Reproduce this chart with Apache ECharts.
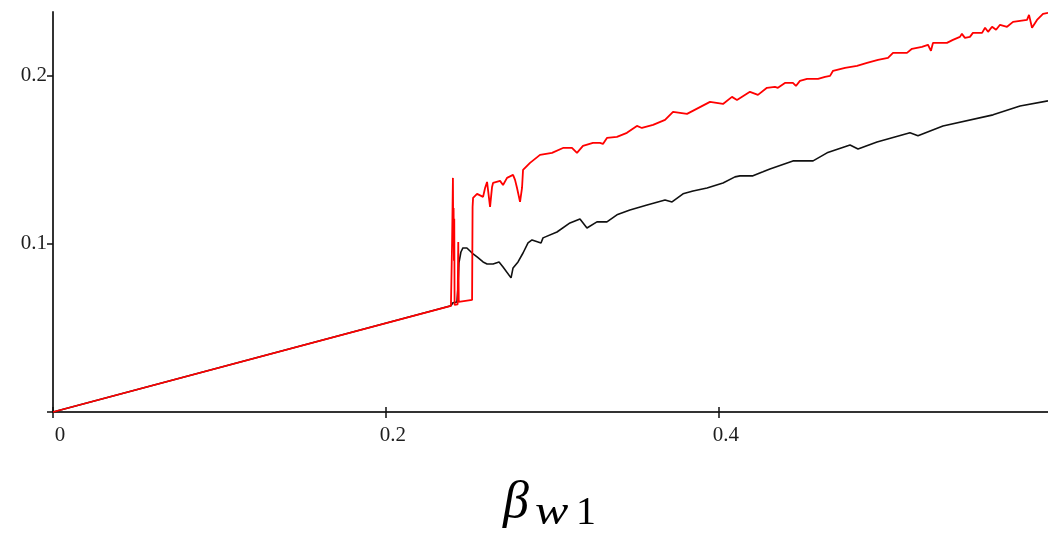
<!DOCTYPE html>
<html>
<head>
<meta charset="utf-8">
<script src="https://cdn.jsdelivr.net/npm/echarts@6/dist/echarts.min.js"></script>
<style>
  html, body { margin: 0; padding: 0; background: #ffffff; }
  #chart { width: 1048px; height: 537px; }
</style>
</head>
<body>
<div id="chart"></div>
<script>
// Tick positions on each axis
const xTickValues = [0, 0.2, 0.4];
const yTickValues = [0, 0.1, 0.2];
const yLabelValues = [0.1, 0.2];

// Lower curve (black): [beta_w1, value]
const blackCurve = [
  [0, 0], [0.2390, 0.0632], [0.2402, 0.0650], [0.2426, 0.0655], [0.2432, 0.0738],
  [0.2438, 0.0887], [0.2450, 0.0952], [0.2462, 0.0976], [0.2486, 0.0976], [0.2517, 0.0946],
  [0.2547, 0.0923], [0.2583, 0.0893], [0.2607, 0.0881], [0.2643, 0.0881], [0.2679, 0.0893],
  [0.2703, 0.0863], [0.2751, 0.0798], [0.2763, 0.0857], [0.2793, 0.0893], [0.2823, 0.0946],
  [0.2853, 0.1006], [0.2877, 0.1024], [0.2931, 0.1006], [0.2943, 0.1036], [0.3027, 0.1071],
  [0.3105, 0.1125], [0.3165, 0.1149], [0.3207, 0.1095], [0.3267, 0.1131], [0.3327, 0.1131],
  [0.3387, 0.1173], [0.3465, 0.1202], [0.3568, 0.1232], [0.3676, 0.1262], [0.3718, 0.1250],
  [0.3784, 0.1298], [0.3844, 0.1315], [0.3928, 0.1333], [0.4024, 0.1363], [0.4096, 0.1399],
  [0.4126, 0.1405], [0.4204, 0.1405], [0.4264, 0.1429], [0.4306, 0.1446], [0.4444, 0.1494],
  [0.4565, 0.1494], [0.4649, 0.1542], [0.4787, 0.1589], [0.4835, 0.1565], [0.4949, 0.1607],
  [0.5147, 0.1661], [0.5195, 0.1643], [0.5345, 0.1702], [0.5646, 0.1768], [0.5808, 0.1821],
  [0.5976, 0.1851]
];

// Upper curve (red): [beta_w1, value]
const redCurve = [
  [0, 0], [0.2390, 0.0632], [0.2396, 0.0636], [0.2397, 0.1012], [0.2400, 0.1012],
  [0.2402, 0.1393], [0.2404, 0.1000], [0.2406, 0.1214], [0.2408, 0.0900], [0.2410, 0.1150],
  [0.2412, 0.0637], [0.2430, 0.0640], [0.2434, 0.1012], [0.2437, 0.0655], [0.2517, 0.0667],
  [0.2520, 0.1220], [0.2523, 0.1274], [0.2547, 0.1298], [0.2583, 0.1280], [0.2595, 0.1333],
  [0.2607, 0.1369], [0.2625, 0.1220], [0.2637, 0.1339], [0.2643, 0.1363], [0.2685, 0.1375],
  [0.2703, 0.1351], [0.2727, 0.1393], [0.2763, 0.1411], [0.2775, 0.1381], [0.2787, 0.1333],
  [0.2805, 0.1250], [0.2817, 0.1333], [0.2823, 0.1440], [0.2853, 0.1470], [0.2865, 0.1482],
  [0.2925, 0.1530], [0.2997, 0.1542], [0.3063, 0.1571], [0.3117, 0.1571], [0.3147, 0.1542],
  [0.3183, 0.1583], [0.3243, 0.1601], [0.3285, 0.1601], [0.3303, 0.1595], [0.3327, 0.1631],
  [0.3387, 0.1637], [0.3447, 0.1661], [0.3507, 0.1702], [0.3537, 0.1690], [0.3604, 0.1708],
  [0.3676, 0.1738], [0.3724, 0.1786], [0.3808, 0.1774], [0.3946, 0.1845], [0.4024, 0.1833],
  [0.4078, 0.1875], [0.4108, 0.1857], [0.4186, 0.1905], [0.4234, 0.1887], [0.4288, 0.1929],
  [0.4336, 0.1935], [0.4354, 0.1929], [0.4396, 0.1958], [0.4444, 0.1958], [0.4462, 0.1940],
  [0.4486, 0.1970], [0.4529, 0.1982], [0.4595, 0.1982], [0.4637, 0.1994], [0.4667, 0.2000],
  [0.4685, 0.2030], [0.4757, 0.2048], [0.4829, 0.2060], [0.4889, 0.2077], [0.4955, 0.2095],
  [0.5015, 0.2107], [0.5045, 0.2137], [0.5129, 0.2137], [0.5159, 0.2161], [0.5219, 0.2173],
  [0.5255, 0.2185], [0.5273, 0.2149], [0.5285, 0.2196], [0.5369, 0.2196], [0.5405, 0.2214],
  [0.5447, 0.2232], [0.5459, 0.2250], [0.5477, 0.2226], [0.5507, 0.2232], [0.5525, 0.2256],
  [0.5580, 0.2256], [0.5598, 0.2286], [0.5616, 0.2262], [0.5640, 0.2292], [0.5664, 0.2274],
  [0.5688, 0.2304], [0.5730, 0.2292], [0.5766, 0.2321], [0.5850, 0.2333], [0.5862, 0.2363],
  [0.5880, 0.2286], [0.5910, 0.2333], [0.5946, 0.2369], [0.5976, 0.2375]
];

const X_MAX = 0.5976;
const Y_MAX = 0.238;

const axisColor = '#333333';
const labelFont = {
  fontFamily: '"Liberation Serif", "Times New Roman", serif',
  fontSize: 21,
  color: '#1e1e1e'
};

const chart = echarts.init(document.getElementById('chart'), null, { renderer: 'canvas' });

chart.setOption({
  animation: false,
  backgroundColor: '#ffffff',
  grid: { left: 53, right: 0, top: 12, bottom: 125, containLabel: false },
  xAxis: [
    {
      type: 'value', min: 0, max: X_MAX,
      axisLine: { show: true, onZero: false, lineStyle: { color: axisColor, width: 2 } },
      axisTick: { show: true, inside: false, length: 6, customValues: xTickValues,
                  lineStyle: { color: '#111', width: 1.5 } },
      axisLabel: Object.assign({ show: true, customValues: xTickValues, margin: 13,
                  formatter: v => String(v), padding: [0, 0, 0, 14] }, labelFont),
      splitLine: { show: false }
    },
    {
      type: 'value', min: 0, max: X_MAX, position: 'bottom',
      axisLine: { show: false },
      axisTick: { show: true, inside: true, length: 5, customValues: xTickValues,
                  lineStyle: { color: '#111', width: 1.5 } },
      axisLabel: { show: false },
      splitLine: { show: false }
    }
  ],
  yAxis: {
    type: 'value', min: 0, max: Y_MAX,
    axisLine: { show: true, onZero: false, lineStyle: { color: axisColor, width: 2 } },
    axisTick: { show: true, inside: false, length: 6, customValues: yTickValues,
                lineStyle: { color: '#111', width: 1.5 } },
    axisLabel: Object.assign({ show: true, customValues: yLabelValues, margin: 6,
                formatter: v => String(v) }, labelFont),
    splitLine: { show: false }
  },
  series: [
    {
      type: 'line', data: blackCurve, showSymbol: false, symbol: 'none',
      lineStyle: { color: '#111111', width: 1.6 }, z: 2
    },
    {
      type: 'line', data: redCurve, showSymbol: false, symbol: 'none',
      lineStyle: { color: '#ff0000', width: 1.8 }, z: 3
    }
  ],
  graphic: [
    {
      type: 'text', left: 503, top: 477,
      style: { text: 'β', font: 'italic 52px "Liberation Serif", serif', fill: '#000' }
    },
    {
      type: 'text', left: 535, top: 493, scaleX: 1.25,
      style: { text: 'w', font: 'italic 40px "Liberation Serif", serif', fill: '#000' }
    },
    {
      type: 'text', left: 576, top: 493,
      style: { text: '1', font: '40px "Liberation Serif", serif', fill: '#000' }
    }
  ]
});
</script>
</body>
</html>
